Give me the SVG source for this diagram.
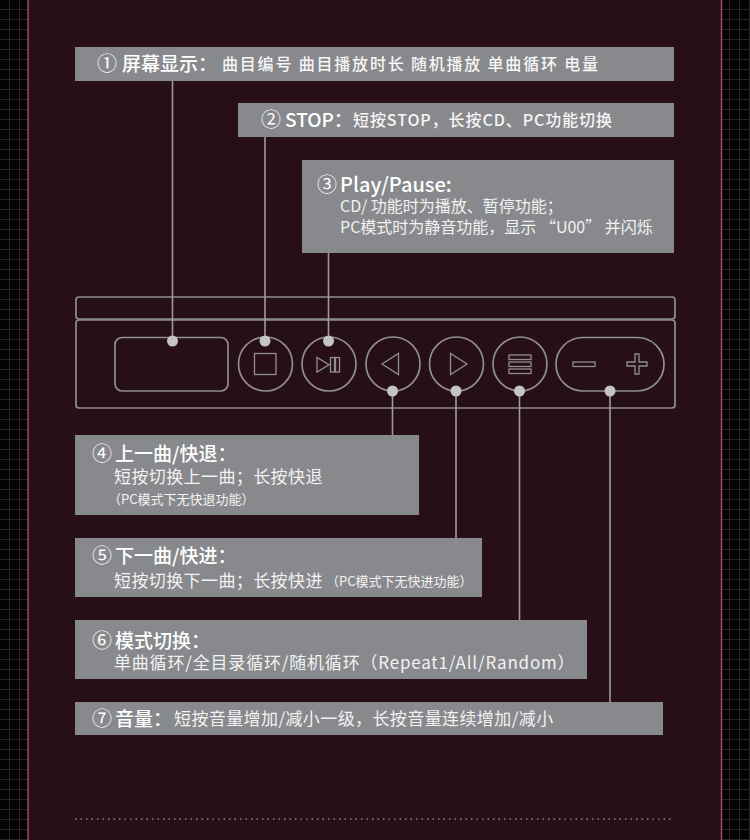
<svg xmlns="http://www.w3.org/2000/svg" width="750" height="840" viewBox="0 0 750 840">
<style>
text{font-family:"Noto Sans CJK SC","Noto Sans",sans-serif;fill:#f2f2f2}
.box{fill:#88898c}
.n{font-size:20px;font-weight:400;fill:#fff}
.h{font-size:19px;font-weight:500;fill:#fff}
.t{font-size:16px;font-weight:500;fill:#f6f6f6}
.s{font-size:16px;font-weight:400}
.m{font-size:17px;font-weight:400;letter-spacing:.4px}
.x{font-size:13px;font-weight:400}
.o{fill:none;stroke:#8f8f93;stroke-width:1.700}
.g{fill:none;stroke:#8f8f93;stroke-width:1.300}
.c{stroke:#9b9b9e;stroke-width:1.600;fill:none}
.d{fill:#c4c4c6}
</style>
<defs><pattern id="grid" width="10" height="10" patternUnits="userSpaceOnUse"><rect width="10" height="10" fill="#030303"/><path d="M9.500 0V10M0 9.500H10" stroke="#2b2226" stroke-width="1"/></pattern></defs>
<rect id="bg" width="750" height="840" fill="url(#grid)"/>
<rect id="panel" x="28" y="0" width="694" height="840" fill="#260f16"/>
<path d="M28 0V840M721.500 0V840" stroke="#a04a6c" stroke-width="1.500" fill="none"/>
<path d="M75 819H674" stroke="#8a8486" stroke-width="1.500" stroke-dasharray="1.500 4" fill="none"/>
<g id="device">
<rect class="o" x="76" y="297" width="599" height="22" rx="3"/>
<rect class="o" x="76" y="320" width="599" height="88" rx="3"/>
</g>
<g id="screen"><rect class="o" x="115" y="337.500" width="113" height="53.500" rx="7"/></g>
<g id="btn-stop"><circle class="o" cx="265.500" cy="364" r="27"/><rect class="g" x="254.500" y="353.500" width="21.500" height="21"/></g>
<g id="btn-play"><circle class="o" cx="329" cy="364" r="27"/><path class="g" d="M317 357.500V372L329 364.700Z"/><rect class="g" x="330.500" y="357.500" width="4" height="14.500"/><rect class="g" x="335.500" y="357.500" width="4" height="14.500"/></g>
<g id="btn-prev"><circle class="o" cx="393" cy="364" r="27"/><path class="g" d="M398.500 353.500V374.500L382 364Z"/></g>
<g id="btn-next"><circle class="o" cx="456.500" cy="364" r="27"/><path class="g" d="M450.500 353.500V374.500L467 364Z"/></g>
<g id="btn-mode"><circle class="o" cx="520" cy="364" r="27"/><rect class="g" x="509" y="355" width="22" height="4.500"/><rect class="g" x="509" y="362" width="22" height="4.500"/><rect class="g" x="509" y="369" width="22" height="4.500"/></g>
<g id="btn-vol"><rect class="o" x="556" y="337.500" width="108" height="53.500" rx="26.700"/><rect class="g" x="573" y="362" width="22" height="4.500"/><path class="g" d="M635 354H639V362H647V366H639V374H635V366H627V362H635Z"/></g>
<g id="connectors">
<path class="c" d="M172.500 81V341M265 137V341M328.500 253V341M392.500 391V435M456 391V538M519.500 391V620M610 391V702"/>
<circle class="d" cx="172.500" cy="341" r="5.500"/><circle class="d" cx="265" cy="341" r="5.500"/><circle class="d" cx="328.500" cy="341" r="5.500"/><circle class="d" cx="392.500" cy="391" r="5.500"/><circle class="d" cx="456" cy="391" r="5.500"/><circle class="d" cx="519.500" cy="391" r="5.500"/><circle class="d" cx="610" cy="391" r="5.500"/>
</g>
<g id="n1"><rect class="box" x="75" y="47" width="599" height="34"/><text class="n" x="97" y="71">①</text><text class="h" x="122" y="71">屏幕显示：</text><text class="t" x="222" y="70" textLength="376">曲目编号 曲目播放时长 随机播放 单曲循环 电量</text></g>
<g id="n2"><rect class="box" x="238" y="103" width="436" height="34"/><text class="n" x="261" y="127">②</text><text class="h" x="285" y="127">STOP：</text><text class="t" x="353" y="126" textLength="259">短按STOP，长按CD、PC功能切换</text></g>
<g id="n3"><rect class="box" x="302" y="160" width="372" height="93"/><text class="n" x="317" y="192">③</text><text class="h" x="340" y="192" style="font-size:20px">Play/Pause:</text><text class="s" x="340" y="212">CD/ 功能时为播放、暂停功能；</text><text class="s" x="340" y="233">PC模式时为静音功能，显示 “U00” 并闪烁</text></g>
<g id="n4"><rect class="box" x="75" y="435" width="344" height="80"/><text class="n" x="92" y="461">④</text><text class="h" x="115" y="461">上一曲/快退：</text><text class="m" x="114" y="483">短按切换上一曲；长按快退</text><text class="x" x="108" y="504">（PC模式下无快退功能）</text></g>
<g id="n5"><rect class="box" x="75" y="538" width="407" height="59"/><text class="n" x="92" y="563">⑤</text><text class="h" x="115" y="563">下一曲/快进：</text><text class="m" x="114" y="587">短按切换下一曲；长按快进</text><text class="x" x="326" y="586">（PC模式下无快进功能）</text></g>
<g id="n6"><rect class="box" x="75" y="620" width="512" height="59"/><text class="n" x="92" y="648">⑥</text><text class="h" x="115" y="648">模式切换：</text><text class="m" x="114" y="669" textLength="461">单曲循环/全目录循环/随机循环（Repeat1/All/Random）</text></g>
<g id="n7"><rect class="box" x="75" y="702" width="588" height="33"/><text class="n" x="92" y="726">⑦</text><text class="h" x="115" y="726">音量：</text><text class="m" x="174" y="725">短按音量增加/减小一级，长按音量连续增加/减小</text></g>
</svg>
